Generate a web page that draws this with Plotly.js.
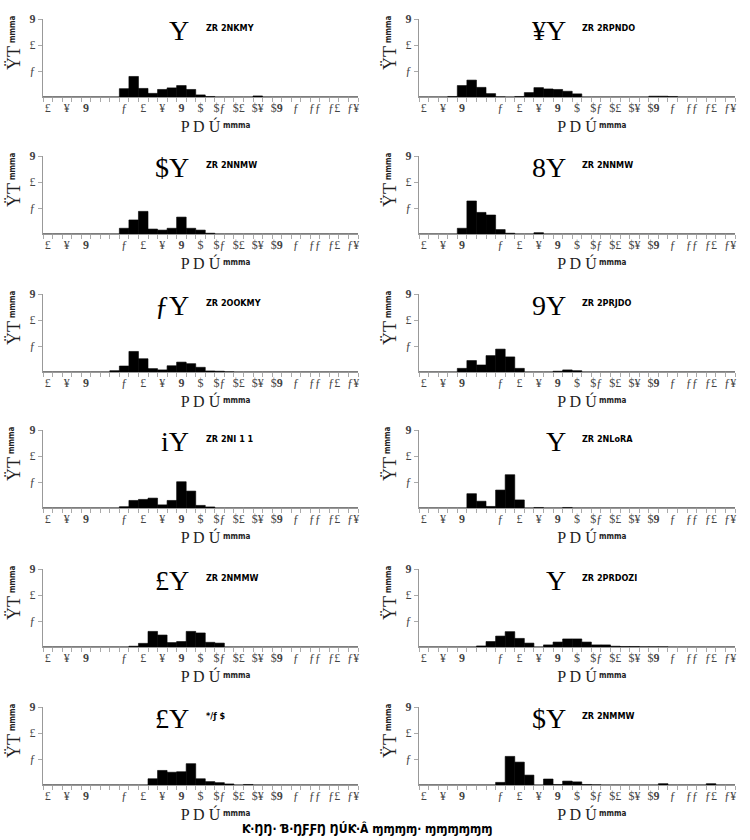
<!DOCTYPE html>
<html>
<head>
<meta charset="utf-8">
<script src="https://cdn.plot.ly/plotly-3.0.1.min.js"></script>
<style>
  html, body { margin: 0; padding: 0; background: #fff; }
  #chart { width: 750px; height: 840px; }
</style>
</head>
<body>
<div id="chart"></div>
<script>
// Histogram counts, 33 bins per panel (left-to-right, row by row)
const counts1  = [0,0,0,0,0,0,0,0,0.32,0.79,0.33,0.14,0.29,0.35,0.44,0.29,0.08,0.02,0,0,0,0,0.04,0,0,0,0,0,0,0,0,0,0];
const counts2  = [0,0,0,0.02,0.44,0.65,0.37,0.13,0.01,0,0.02,0.17,0.36,0.31,0.29,0.22,0.12,0,0,0,0,0,0,0,0.03,0.03,0.02,0,0,0,0,0,0];
const counts3  = [0,0,0,0,0,0,0,0,0.22,0.54,0.87,0.19,0.15,0.22,0.65,0.22,0.15,0.03,0,0,0,0,0,0,0,0,0,0,0,0,0,0,0];
const counts4  = [0,0,0,0,0.22,1.27,0.83,0.73,0.17,0.03,0,0,0.05,0,0,0,0,0,0,0,0,0,0,0,0,0,0,0,0,0,0,0,0];
const counts5  = [0,0,0,0,0,0,0,0.05,0.23,0.79,0.51,0.13,0.08,0.24,0.38,0.32,0.18,0.04,0.03,0.01,0,0,0,0,0,0,0,0,0,0,0,0,0];
const counts6  = [0,0,0,0,0.14,0.44,0.27,0.63,0.88,0.58,0.14,0,0,0,0.03,0.08,0.05,0,0,0,0,0,0,0,0,0,0,0,0,0,0,0,0];
const counts7  = [0,0,0,0,0,0,0,0,0.05,0.29,0.33,0.38,0.12,0.29,1.01,0.65,0.10,0.04,0,0,0,0,0,0,0,0,0,0,0,0,0,0,0];
const counts8  = [0,0,0,0,0,0.55,0.26,0.06,0.69,1.28,0.31,0,0.02,0,0,0.02,0,0,0,0,0,0,0,0,0,0,0,0,0,0,0,0,0];
const counts9  = [0,0,0,0,0,0,0,0,0,0.03,0.14,0.60,0.46,0.17,0.21,0.60,0.54,0.18,0.15,0,0,0,0,0,0,0,0,0,0,0,0,0,0];
const counts10 = [0,0,0,0,0,0,0.04,0.21,0.42,0.59,0.33,0.15,0,0.08,0.19,0.31,0.31,0.19,0.08,0.08,0.03,0.02,0.02,0.01,0.01,0.01,0,0,0,0,0,0,0];
const counts11 = [0,0,0,0,0,0,0,0,0,0,0,0.24,0.56,0.49,0.51,0.82,0.24,0.13,0.09,0.04,0,0.02,0,0,0,0,0,0,0,0,0,0,0];
const counts12 = [0,0,0,0,0,0,0,0,0.10,1.10,0.88,0.38,0,0.23,0.02,0.15,0.12,0.02,0.01,0,0,0,0,0,0,0.05,0,0,0,0,0.05,0,0];

const panelCounts = [counts1, counts2, counts3, counts4, counts5, counts6,
                     counts7, counts8, counts9, counts10, counts11, counts12];

// Panel headings: large mark + small tag
const headBig   = ['Y', '¥Y', '$Y', '8Y', 'ƒY', '9Y', 'iY', 'Y', '£Y', 'Y', '£Y', '$Y'];
const headSmall = ['ZR 2NKMY', 'ZR 2RPNDO', 'ZR 2NNMW', 'ZR 2NNMW', 'ZR 2OOKMY', 'ZR 2PRJDO',
                   'ZR 2NI 1 1', 'ZR 2NLoRA', 'ZR 2NMMW', 'ZR 2PRDOZI', '*/ƒ $', 'ZR 2NMMW'];

// Tick labels (bin index each label sits on; bin 6 carries no label)
const xTickBins = [0, 2, 4, 8, 10, 12, 14, 16, 18, 20, 22, 24, 26, 28, 30, 32];
const xTickText = ['£', '¥', '<b>9</b>', 'ƒ', '£', '¥', '<b>9</b>', '$', '$ƒ', '$£', '$¥', '$<b>9</b>', 'ƒ', 'ƒƒ', 'ƒ£', 'ƒ¥'];
const yTickVals = [1, 2, 3];
const yTickText = ['ƒ', '£', '<b>9</b>'];

// Axis titles: main glyphs plus a small bold tag
const xTitleMain = 'P D Ú', yTitleMain = 'ŸT', titleTag = 'mmma';
const caption = 'Ƙ·ŊŊ· Ɓ·ŊƑƑŊ ŊÚƘ·Â ɱɱɱɱ· ɱɱɱɱɱɱ';

// Panel frame geometry (pixels)
const W = 750, H = 840;
const colEdges = [[43, 358], [419, 735]];
const rowTop = [19, 156, 294, 430, 569, 707];
const rowBot = [97, 234, 372, 508, 647, 785];

const traces = [];
const layout = {
  width: W, height: H,
  margin: {l: 0, r: 0, t: 0, b: 0},
  paper_bgcolor: '#fff', plot_bgcolor: '#fff',
  showlegend: false,
  bargap: 0,
  annotations: []
};

const serif = 'Liberation Serif, DejaVu Serif, serif';
const narrow = 'DejaVu Sans Condensed, Liberation Sans Narrow, sans-serif';

panelCounts.forEach((vals, k) => {
  const col = k % 2, row = Math.floor(k / 2);
  const n = k + 1;
  const xa = 'x' + (n === 1 ? '' : n), ya = 'y' + (n === 1 ? '' : n);
  traces.push({
    type: 'bar',
    x: vals.map((_, i) => i),
    y: vals,
    width: 1,
    xaxis: xa, yaxis: ya,
    marker: {color: '#000', line: {color: '#000', width: 0.6}},
    hoverinfo: 'skip'
  });
  const xName = 'xaxis' + (n === 1 ? '' : n), yName = 'yaxis' + (n === 1 ? '' : n);
  layout[xName] = {
    domain: [colEdges[col][0] / W, colEdges[col][1] / W],
    anchor: ya,
    range: [-0.5, 32.5],
    fixedrange: true,
    showgrid: false, zeroline: false,
    showline: true, linecolor: '#999', linewidth: 1,
    tickmode: 'array', tickvals: xTickBins, ticktext: xTickText,
    ticks: '',
    minor: {tickmode: 'linear', tick0: -0.5, dtick: 1, ticks: 'outside', ticklen: 4, tickcolor: '#aaa', tickwidth: 1, showgrid: false},
    tickfont: {family: serif, size: 12, color: '#444'},
    automargin: false,
    title: {text: xTitleMain, font: {family: serif, size: 16, color: '#222'}, standoff: 6}
  };
  layout[yName] = {
    domain: [1 - rowBot[row] / H, 1 - rowTop[row] / H],
    anchor: xa,
    range: [0, 3],
    fixedrange: true,
    showgrid: false, zeroline: false,
    showline: true, linecolor: '#999', linewidth: 1,
    tickmode: 'array', tickvals: yTickVals, ticktext: yTickText,
    ticks: 'outside', ticklen: 4, tickcolor: '#aaa',
    tickfont: {family: serif, size: 12, color: '#444'},
    automargin: false,
    title: {text: yTitleMain, font: {family: serif, size: 18, color: '#222'}, standoff: 4}
  };
  // small tags beside the axis titles
  layout.annotations.push({
    xref: xa + ' domain', yref: ya + ' domain',
    x: 0.5, y: 0, xanchor: 'left', yanchor: 'top', xshift: 20, yshift: -22,
    text: '<b>' + titleTag + '</b>', showarrow: false,
    font: {family: narrow, size: 8, color: '#222'}
  });
  layout.annotations.push({
    xref: xa + ' domain', yref: ya + ' domain',
    x: 0, y: 0.5, xanchor: 'center', yanchor: 'bottom', xshift: -31, yshift: 13,
    textangle: -90,
    text: '<b>' + titleTag + '</b>', showarrow: false,
    font: {family: narrow, size: 8, color: '#222'}
  });
  layout.annotations.push({
    xref: xa + ' domain', yref: ya + ' domain',
    x: 0.47, y: 0.85, xanchor: 'right', yanchor: 'middle',
    text: headBig[k], showarrow: false,
    font: {family: serif, size: 28, color: '#000'}
  });
  layout.annotations.push({
    xref: xa + ' domain', yref: ya + ' domain',
    x: 0.51, y: 0.89, xanchor: 'left', yanchor: 'middle',
    text: '<b>' + headSmall[k] + '</b>', showarrow: false,
    font: {family: narrow, size: 9, color: '#000'}
  });
});

layout.annotations.push({
  xref: 'paper', yref: 'paper', x: 0.49, y: 1 - 828 / H,
  xanchor: 'center', yanchor: 'middle',
  text: '<b>' + caption + '</b>', showarrow: false,
  font: {family: narrow, size: 12, color: '#000'}
});

Plotly.newPlot('chart', traces, layout, {displayModeBar: false, staticPlot: true});
</script>
</body>
</html>
